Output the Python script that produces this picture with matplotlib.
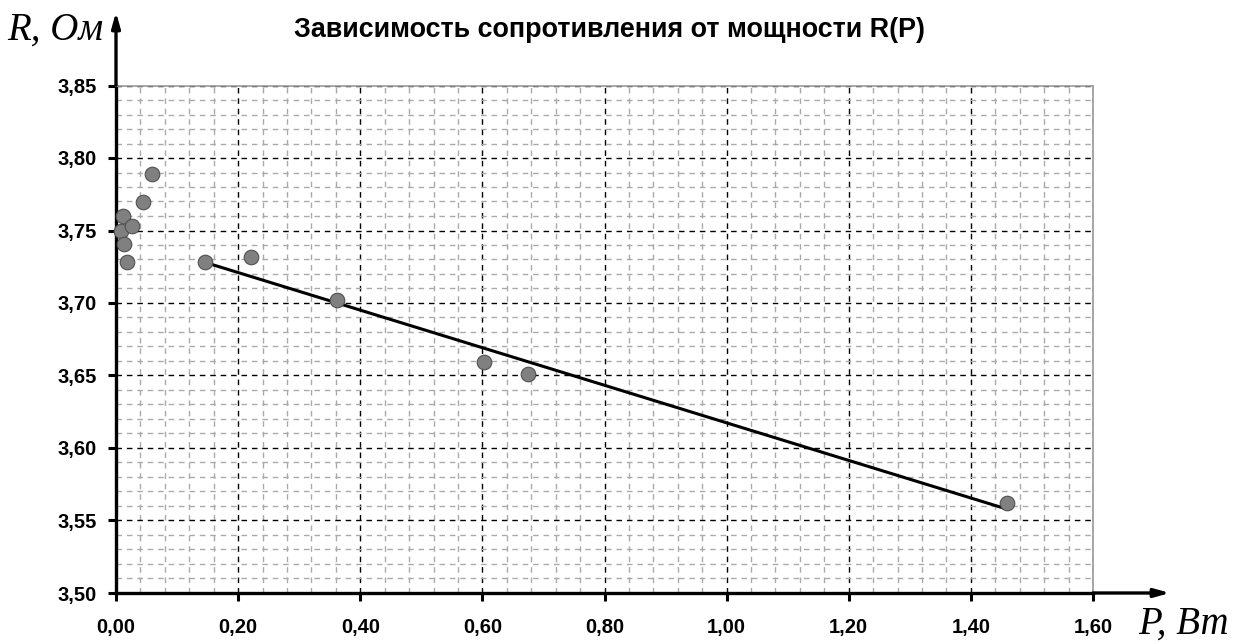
import matplotlib
matplotlib.use("Agg")
import matplotlib.pyplot as plt
from matplotlib.ticker import MultipleLocator, FuncFormatter

# measured points R(P)
power_w = [0.059, 0.044, 0.011, 0.008, 0.026, 0.013, 0.018,
           0.146, 0.221, 0.362, 0.603, 0.675, 1.459]
resistance_ohm = [3.789, 3.770, 3.760, 3.750, 3.753, 3.741, 3.728,
                  3.728, 3.732, 3.702, 3.659, 3.651, 3.562]

# linear trend drawn over the higher-power points
trend_p = [0.146, 1.458]
trend_r = [3.728, 3.558]

title = "Зависимость сопротивления от мощности R(P)"

W, H = 1246, 644
fig = plt.figure(figsize=(W / 100, H / 100), dpi=100)
ax = fig.add_axes([116 / W, 1 - 593 / H, (1093 - 116) / W, (593 - 85.5) / H])

ax.set_xlim(0, 1.6)
ax.set_ylim(3.5, 3.85)

# grid: fine grey dashes, darker dashes on the major steps
ax.xaxis.set_major_locator(MultipleLocator(0.2))
ax.xaxis.set_minor_locator(MultipleLocator(0.04))
ax.yaxis.set_major_locator(MultipleLocator(0.05))
ax.yaxis.set_minor_locator(MultipleLocator(0.01))
ax.grid(which="minor", color="#aaaaaa", linestyle=(0, (4, 3.5)), linewidth=1.0)
ax.grid(which="major", color="black", linestyle=(0, (4, 3.5)), linewidth=1.0)
ax.set_axisbelow(True)

comma = FuncFormatter(lambda v, pos: f"{v:.2f}".replace(".", ","))
ax.xaxis.set_major_formatter(comma)
ax.yaxis.set_major_formatter(comma)

ax.tick_params(which="major", direction="out", length=6, width=2.2,
               labelsize=14.5)
ax.tick_params(axis="x", which="major", pad=12)
ax.tick_params(axis="y", which="major", pad=8)
ax.tick_params(which="minor", length=0)
for lab in ax.get_xticklabels() + ax.get_yticklabels():
    lab.set_fontfamily("Liberation Sans")
    lab.set_fontweight("bold")

for side in ("top", "right"):
    ax.spines[side].set_color("#999999")
    ax.spines[side].set_linewidth(1.2)
for side in ("left", "bottom"):
    ax.spines[side].set_color("black")
    ax.spines[side].set_linewidth(2.4)

ax.plot(trend_p, trend_r, color="black", linewidth=2.2, zorder=3)
ax.plot(power_w, resistance_ohm, linestyle="none", marker="o", markersize=10.5,
        markerfacecolor="#808080", markeredgecolor="#505050",
        markeredgewidth=0.8, zorder=4, clip_on=False)

# axis arrows
ax.annotate("", xy=(116 / W, 1 - 12 / H), xytext=(116 / W, 1 - 85 / H),
            xycoords="figure fraction",
            arrowprops=dict(arrowstyle="-|>,head_length=0.9,head_width=0.25",
                            color="black", lw=2.4, shrinkA=0, shrinkB=0))
ax.annotate("", xy=(1170 / W, 1 - 593 / H), xytext=(1093 / W, 1 - 593 / H),
            xycoords="figure fraction",
            arrowprops=dict(arrowstyle="-|>,head_length=0.9,head_width=0.25",
                            color="black", lw=2.4, shrinkA=0, shrinkB=0))

serif = dict(family="Liberation Serif", style="italic", fontsize=28)
fig.text(55 / W, 1 - 30 / H, "R, Ом", ha="center", va="center", **serif)
fig.text(1184 / W, 1 - 624 / H, "P, Вт", ha="center", va="center", **serif)

fig.text(610 / W, 1 - 30 / H, title, ha="center", va="center",
         family="Liberation Sans", fontweight="bold", fontsize=19.4)

fig.savefig("out.png", dpi=100)
